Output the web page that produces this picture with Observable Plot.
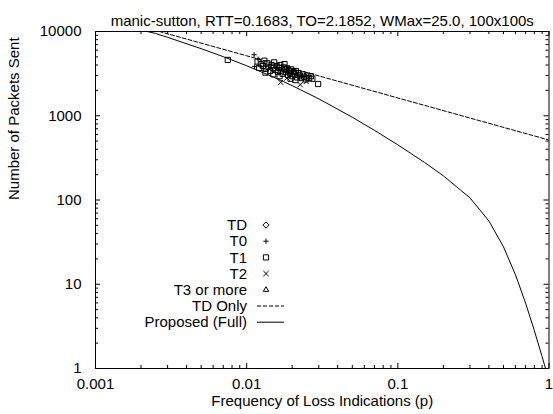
<!DOCTYPE html>
<html><head><meta charset="utf-8">
<script src="https://cdn.jsdelivr.net/npm/d3@7"></script>
<script src="https://cdn.jsdelivr.net/npm/@observablehq/plot@0.6"></script>
<style>html,body{margin:0;padding:0;background:#fff} svg{display:block}</style>
</head><body><div id="chart"></div>
<script>
// ---- text ----
const titleText = "manic-sutton, RTT=0.1683, TO=2.1852, WMax=25.0, 100x100s";
const xLabel = "Frequency of Loss Indications (p)";
const yLabel = "Number of Packets Sent";
const xTicks = [0.001, 0.01, 0.1, 1];
const yTicks = [1, 10, 100, 1000, 10000];
const legendLabels = ["TD", "T0", "T1", "T2", "T3 or more", "TD Only", "Proposed (Full)"];

// ---- model curves ----
const fullP = [0.001, 0.002, 0.0025, 0.003, 0.005, 0.007, 0.01, 0.015, 0.02, 0.03, 0.05, 0.07, 0.1, 0.15, 0.2, 0.3, 0.4, 0.5, 0.6, 0.7, 0.8, 0.9, 0.95, 0.97];
const fullN = [12214, 10423, 9475, 8527, 6256, 5028, 3922, 2885, 2278, 1587, 960, 672, 451.5, 279.7, 193.6, 106.1, 56.45, 27.8, 12.96, 5.976, 2.819, 1.385, 0.9886, 0.867];
const tdOnlyP = [0.001, 0.01, 0.1, 1];
const tdOnlyN = [16272, 5146, 1627, 515];

// ---- measured points ----
const tdP = [0.0190];
const tdN = [3600];
const t0P = [0.0112, 0.0113, 0.0119, 0.0170, 0.0205];
const t0N = [5300, 3850, 4700, 3700, 3450];
const t1P = [0.0075, 0.0297, 0.0118, 0.0121, 0.0124, 0.0128, 0.0131, 0.0134, 0.0137, 0.0140, 0.0143, 0.0146, 0.0149, 0.0152, 0.0155, 0.0158, 0.0161, 0.0164, 0.0167, 0.0170, 0.0173, 0.0176, 0.0179, 0.0182, 0.0185, 0.0188, 0.0191, 0.0194, 0.0197, 0.0200, 0.0204, 0.0208, 0.0212, 0.0216, 0.0220, 0.0225, 0.0230, 0.0235, 0.0240, 0.0246, 0.0252, 0.0259, 0.0266, 0.0272, 0.0165, 0.0195, 0.0178, 0.0150, 0.0210, 0.0133];
const t1N = [4600, 2380, 4400, 3700, 4100, 3900, 4500, 3600, 4200, 3800, 3400, 4000, 3700, 4300, 3500, 3900, 3300, 3700, 4000, 3450, 3150, 3750, 3550, 3300, 3650, 3050, 3400, 3200, 3550, 2950, 3300, 3100, 3400, 2850, 3200, 3000, 2800, 3100, 2900, 2700, 3000, 2800, 2950, 2750, 2950, 2750, 4100, 3100, 2650, 3250];
const t2P = [0.0168, 0.0226, 0.0248, 0.0185];
const t2N = [2490, 2340, 2550, 2800];
const t3P = [0.0215];
const t3N = [3000];

// ---- symbols (gnuplot-like outlines) ----
const R = s => Math.sqrt(s / Math.PI);
const symDiamond = {draw(c, s){const r=R(s)*1.2; c.moveTo(0,-r); c.lineTo(r,0); c.lineTo(0,r); c.lineTo(-r,0); c.closePath();}};
const symPlus = {draw(c, s){const r=R(s); c.moveTo(-r,0); c.lineTo(r,0); c.moveTo(0,-r); c.lineTo(0,r);}};
const symSquare = {draw(c, s){const r=R(s); c.moveTo(-r,-r); c.lineTo(r,-r); c.lineTo(r,r); c.lineTo(-r,r); c.closePath();}};
const symTimes = {draw(c, s){const r=R(s); c.moveTo(-r,-r); c.lineTo(r,r); c.moveTo(r,-r); c.lineTo(-r,r);}};
const symTri = {draw(c, s){const r=R(s)*1.2; c.moveTo(0,-r); c.lineTo(r*0.87,r*0.5); c.lineTo(-r*0.87,r*0.5); c.closePath();}};

const rows = (ps, ns) => ps.map((p, i) => ({p, n: ns[i]}));

const W = 553, H = 414;
const mL = 95, mR = 4.5, mT = 31, mB = 46;
const fw = W - mL - mR, fh = H - mT - mB;
const FONT = 15;
const PR = 2.6;

const xs = d3.scaleLog().domain([0.001, 1]);
const ys = d3.scaleLog().domain([1, 10000]);
const xMinor = xs.ticks().filter(v => !xTicks.includes(v));
const yMinor = ys.ticks().filter(v => !yTicks.includes(v));

const dotOpts = (sym) => ({x: "p", y: "n", symbol: sym, r: PR, fill: "none", stroke: "black", strokeWidth: 1, clip: true});

const svg = Plot.plot({
  width: W, height: H,
  marginLeft: mL, marginRight: mR, marginTop: mT, marginBottom: mB,
  style: {fontFamily: "'Liberation Sans', Arial, Helvetica, sans-serif", fontSize: FONT + "px", background: "white", color: "black"},
  x: {type: "log", domain: [0.001, 1]},
  y: {type: "log", domain: [1, 10000]},
  marks: [
    Plot.frame({stroke: "black", strokeWidth: 1}),
    // inward ticks on all four sides
    Plot.tickX(xTicks, {x: d => d, insetTop: fh - 5, stroke: "black"}),
    Plot.tickX(xTicks, {x: d => d, insetBottom: fh - 5, stroke: "black"}),
    Plot.tickX(xMinor, {x: d => d, insetTop: fh - 3, stroke: "black"}),
    Plot.tickX(xMinor, {x: d => d, insetBottom: fh - 3, stroke: "black"}),
    Plot.tickY(yTicks, {y: d => d, insetRight: fw - 5, stroke: "black"}),
    Plot.tickY(yTicks, {y: d => d, insetLeft: fw - 5, stroke: "black"}),
    Plot.tickY(yMinor, {y: d => d, insetRight: fw - 3, stroke: "black"}),
    Plot.tickY(yMinor, {y: d => d, insetLeft: fw - 3, stroke: "black"}),
    Plot.axisX(xTicks, {anchor: "bottom", tickSize: 0, tickPadding: 10, tickFormat: d => String(d), label: null, fontSize: FONT}),
    Plot.axisY(yTicks, {anchor: "left", tickSize: 0, tickPadding: 14, tickFormat: d => String(d), label: null, fontSize: FONT}),
    // curves
    Plot.line(rows(tdOnlyP, tdOnlyN), {x: "p", y: "n", stroke: "black", strokeWidth: 1, strokeDasharray: "4,2", clip: true}),
    Plot.line(rows(fullP, fullN), {x: "p", y: "n", stroke: "black", strokeWidth: 1, clip: true}),
    // points
    Plot.dot(rows(tdP, tdN), dotOpts(symDiamond)),
    Plot.dot(rows(t0P, t0N), dotOpts(symPlus)),
    Plot.dot(rows(t1P, t1N), dotOpts(symSquare)),
    Plot.dot(rows(t2P, t2N), dotOpts(symTimes)),
    Plot.dot(rows(t3P, t3N), dotOpts(symTri)),
    // titles
    Plot.text([titleText], {text: d => d, frameAnchor: "top", dy: -16, fill: "black"}),
    Plot.text([xLabel], {text: d => d, frameAnchor: "bottom", dy: 37, fill: "black"}),
    Plot.text([yLabel], {text: d => d, frameAnchor: "left", dx: -81, rotate: -90, fill: "black"})
  ]
});

// legend (inside plot, gnuplot style)
const lg = d3.select(svg).append("g").attr("font-size", FONT);
const legTextX = 247, legSymX = 266, legLine = [257, 284], legY0 = 225, legDY = 16.2;
const legSyms = [symDiamond, symPlus, symSquare, symTimes, symTri];
legendLabels.forEach((lab, i) => {
  const y = legY0 + i * legDY;
  lg.append("text").attr("x", legTextX).attr("y", y).attr("dy", "0.35em")
    .attr("text-anchor", "end").attr("fill", "black").text(lab);
  if (i < 5) {
    lg.append("path").attr("transform", `translate(${legSymX},${y})`)
      .attr("d", d3.symbol(legSyms[i], Math.PI * PR * PR)())
      .attr("fill", "none").attr("stroke", "black");
  } else {
    lg.append("line").attr("x1", legLine[0]).attr("x2", legLine[1]).attr("y1", y).attr("y2", y)
      .attr("stroke", "black").attr("stroke-dasharray", i === 5 ? "4,2" : null);
  }
});

document.getElementById("chart").appendChild(svg);
</script>
</body></html>
